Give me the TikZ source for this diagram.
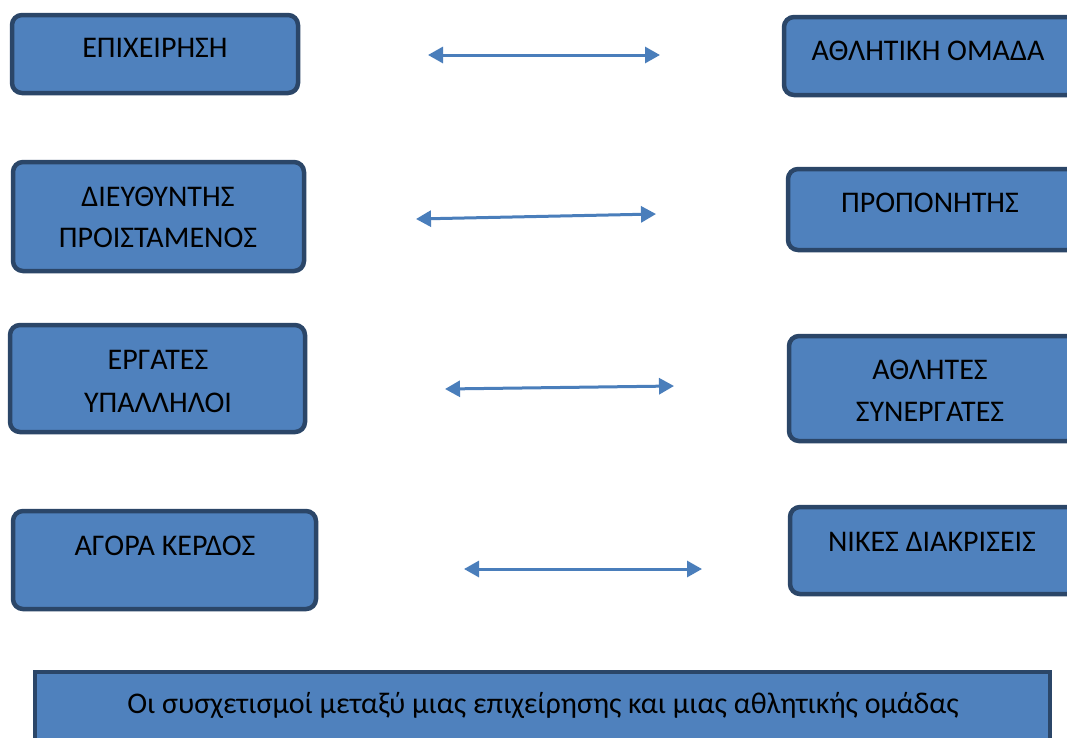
\documentclass[tikz,border=0pt]{standalone}
\usepackage{fontspec}
\setmainfont{Carlito}
\usetikzlibrary{arrows.meta}
\definecolor{boxfill}{HTML}{4F81BD}
\definecolor{boxline}{HTML}{2B4668}
\definecolor{arrowc}{HTML}{4A7EBB}
\tikzset{
  box/.style={draw=boxline, fill=boxfill, line width=4.5pt, rounded corners=10pt, inner sep=0pt},
  sqbox/.style={draw=boxline, fill=boxfill, line width=3.5pt, inner sep=0pt},
  txt/.style={anchor=base, inner sep=0pt, font=\fontsize{30}{34}\selectfont, text=black},
  link/.style={draw=arrowc, line width=3pt, {Triangle[length=15pt,width=16pt]}-{Triangle[length=15pt,width=16pt]}}
}
\begin{document}
\begin{tikzpicture}[x=1pt,y=-1pt]
\useasboundingbox (0,0) rectangle (1067,737);
\clip (0,0) rectangle (1067,737);
\fill[white] (0,0) rectangle (1067,737);
% left boxes
\node[box, minimum width=286pt, minimum height=78pt] (b1) at (155,54) {};
\node[txt] (t1) at (155,57) {ΕΠΙΧΕΙΡΗΣΗ};
\node[box, minimum width=291pt, minimum height=109pt] (b3) at (158.5,216.5) {};
\node[txt] (t3a) at (158,206) {ΔΙΕΥΘΥΝΤΗΣ};
\node[txt] (t3b) at (158,247) {ΠΡΟΙΣΤΑΜΕΝΟΣ};
\node[box, minimum width=295pt, minimum height=107pt] (b5) at (157.5,378.5) {};
\node[txt] (t5a) at (158,369) {ΕΡΓΑΤΕΣ};
\node[txt] (t5b) at (158,412) {ΥΠΑΛΛΗΛΟΙ};
\node[box, minimum width=303pt, minimum height=98pt] (b7) at (164.5,560) {};
\node[txt] (t7) at (165,555) {ΑΓΟΡΑ ΚΕΡΔΟΣ};
% right boxes
\node[box, minimum width=293pt, minimum height=78pt] (b2) at (930.5,56) {};
\node[txt] (t2) at (928,60) {ΑΘΛΗΤΙΚΗ ΟΜΑΔΑ};
\node[box, minimum width=289pt, minimum height=81pt] (b4) at (932.5,209.5) {};
\node[txt] (t4) at (930,212) {ΠΡΟΠΟΝΗΤΗΣ};
\node[box, minimum width=288pt, minimum height=105pt] (b6) at (933,388.5) {};
\node[txt] (t6a) at (930,379) {ΑΘΛΗΤΕΣ};
\node[txt] (t6b) at (930,421) {ΣΥΝΕΡΓΑΤΕΣ};
\node[box, minimum width=287pt, minimum height=87pt] (b8) at (933.5,550.5) {};
\node[txt] (t8) at (932,551) {ΝΙΚΕΣ ΔΙΑΚΡΙΣΕΙΣ};
% bottom caption box
\node[sqbox, minimum width=1015pt, minimum height=90pt] (cap) at (542.5,717) {};
\node[txt] (tc) at (543,713) {Οι συσχετισμοί μεταξύ μιας επιχείρησης και μιας αθλητικής ομάδας};
% arrows
\coordinate (a1l) at (428,55); \coordinate (a1r) at (660,55);
\coordinate (a2l) at (416,219); \coordinate (a2r) at (656,214);
\coordinate (a3l) at (445,389); \coordinate (a3r) at (674,386);
\coordinate (a4l) at (464,569); \coordinate (a4r) at (702,569);
\draw[link] (a1l) -- (a1r);
\draw[link] (a2l) -- (a2r);
\draw[link] (a3l) -- (a3r);
\draw[link] (a4l) -- (a4r);
\end{tikzpicture}
\end{document}
